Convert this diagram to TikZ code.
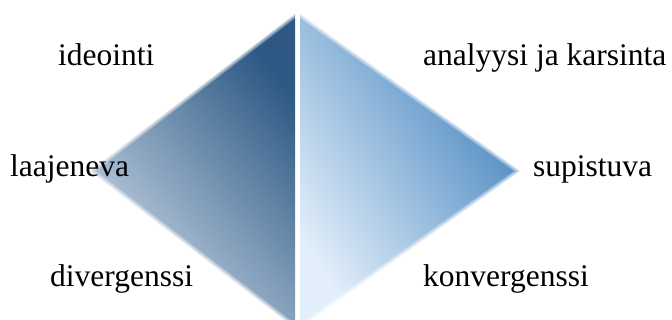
\documentclass[tikz,border=0pt]{standalone}
\usepackage{fontspec}
\setmainfont{Liberation Serif}
\definecolor{vasentumma}{HTML}{2C5883}
\definecolor{vasenvaalea}{HTML}{CAD8E7}
\definecolor{oikeatumma}{HTML}{4383BD}
\definecolor{oikeavaalea}{HTML}{E2EEFA}
\tikzset{
  teksti/.style={font=\fontsize{31.5}{36}\selectfont, anchor=base west, inner sep=0pt},
  pehmea/.style={white, line width=#1, opacity=0.3, line join=round}
}
\begin{document}
\begin{tikzpicture}[x=1pt, y=-1pt]
    \useasboundingbox (0,0) rectangle (672,320);
    \clip (0,0) rectangle (672,320);

    % vasen kolmio
    \shade[top color=vasentumma, bottom color=vasenvaalea, shading angle=-50]
        (295,14) -- (90,171) -- (295,328) -- cycle;
    \foreach \w in {7pt,4.5pt,2.5pt,1pt}
        \draw[pehmea=\w] (295,14) -- (90,171) -- (295,328);

    % oikea kolmio
    \shade[top color=oikeatumma, bottom color=oikeavaalea, shading angle=-58]
        (300,14) -- (520,171) -- (300,328) -- cycle;
    \foreach \w in {7pt,4.5pt,2.5pt,1pt}
        \draw[pehmea=\w] (300,14) -- (520,171) -- (300,328);

    % vali kolmioiden kesken
    \draw[white, line width=2pt, opacity=0.6] (297.5,14) -- (297.5,328);

    % tekstit
    \node[teksti] (ideointi) at (58,66) {ideointi};
    \node[teksti] (analyysi) at (423,66) {analyysi ja karsinta};
    \node[teksti] (laajeneva) at (10,177) {laajeneva};
    \node[teksti] (supistuva) at (533,177) {supistuva};
    \node[teksti] (divergenssi) at (50,287) {divergenssi};
    \node[teksti] (konvergenssi) at (423,287) {konvergenssi};
\end{tikzpicture}
\end{document}
